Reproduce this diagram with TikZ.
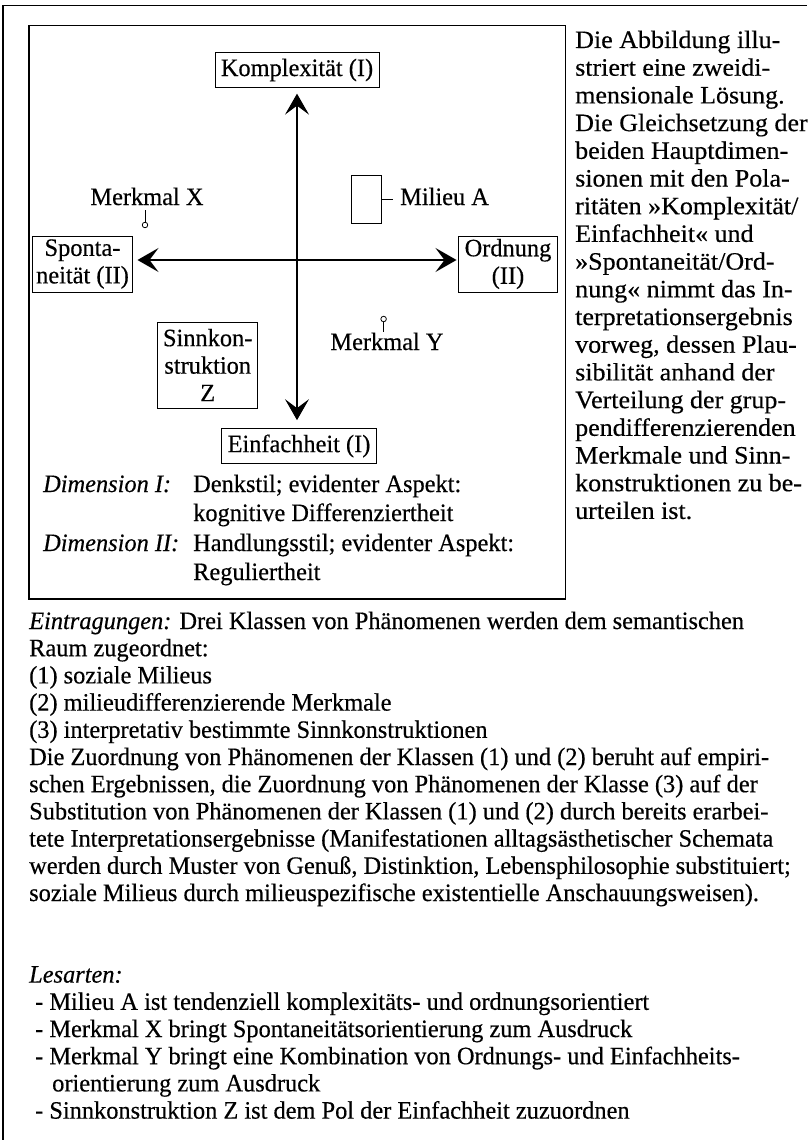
\documentclass[tikz,border=0pt]{standalone}
\usepackage{fontspec}
\setmainfont{Liberation Serif}[FakeStretch=0.975, FakeBold=0.4]
\newfontfamily\colfont{Liberation Serif}[FakeStretch=1.04, FakeBold=0.4]
\usetikzlibrary{arrows.meta}
\begin{document}
\begin{tikzpicture}[x=1pt,y=-1pt,
  txt/.style={inner sep=0pt, anchor=base west, font=\fontsize{25}{27.7}\selectfont},
  coltxt/.style={txt, font=\colfont\fontsize{25}{27.7}\selectfont},
  labelbox/.style={draw, line width=1pt, inner sep=0pt, align=center,
    font=\fontsize{25}{27.5}\selectfont},
  axis/.style={line width=1.1pt,
    {Stealth[length=21pt,width=24pt,inset=9pt]}-{Stealth[length=21pt,width=24pt,inset=9pt]}},
  frame/.style={line width=1.3pt},
  pinline/.style={line width=0.8pt},
  dot/.style={circle, draw, line width=0.8pt, inner sep=0pt, minimum size=5.5pt, fill=white},
]
\useasboundingbox (0,0) rectangle (807,1140);
\fill[white] (0,0) rectangle (807,1140);

% page frame (top and left edges)
\draw[frame] (3,1140) -- (3,5.5) -- (807,5.5);
% frame of the diagram
\draw[frame] (29,25.7) rectangle (565.7,599);

% poles of the two dimensions
\node[labelbox, minimum width=164pt, minimum height=34.3pt] (komp) at (297,70) {Komplexität (I)};
\node[labelbox, minimum width=154.4pt, minimum height=34.7pt] (einf) at (299,446) {Einfachheit (I)};
\node[labelbox, minimum width=100pt, minimum height=56pt] (spont) at (82.5,264) {Sponta-\\neität (II)};
\node[labelbox, minimum width=99pt, minimum height=56pt] (ordn) at (508,264) {Ordnung\\(II)};

% axes
\coordinate (c) at (297,260);
\draw[axis, shorten <=4.5pt, shorten >=1.5pt] (spont.east |- c) -- (ordn.west |- c);
\draw[axis, shorten <=6pt, shorten >=8pt] (komp.south -| c) -- (einf.north -| c);

% entries
\node[labelbox, minimum width=99.5pt, minimum height=86pt] (sinn) at (207.7,365) {Sinnkon-\\struktion\\Z};
\node[draw, line width=1pt, minimum width=30pt, minimum height=48.3pt, inner sep=0pt] (milbox) at (366,199.2) {};
\node[txt] (milA) at (400,205) {Milieu A};
\draw[pinline, shorten >=7pt] (milbox.east) -- (milbox.east -| milA.west);

\node[txt, anchor=base] (mx) at (147,205) {Merkmal X};
\node[dot] (mxdot) at (145,225) {};
\draw[pinline, shorten >=5pt] (mxdot.north) -- (mxdot.north |- mx.south);

\node[txt, anchor=base] (my) at (387,350) {Merkmal Y};
\node[dot] (mydot) at (383.6,319) {};
\draw[pinline] (mydot.south) -- (mydot.south |- my.north);

% legend of the dimensions
\node[txt] (d1) at (43,492) {\textit{Dimension I:}};
\node[txt] (d1a) at (193,492) {Denkstil; evidenter Aspekt:};
\node[txt] (d1b) at (193,521) {kognitive Differenziertheit};
\node[txt] (d2) at (43,551) {\textit{Dimension II:}};
\node[txt] (d2a) at (193,551) {Handlungsstil; evidenter Aspekt:};
\node[txt] (d2b) at (193,580) {Reguliertheit};

% side column
\foreach \t [count=\i] in {Die Abbildung illu-, striert eine zweidi-, mensionale Lösung.,
  Die Gleichsetzung der, beiden Hauptdimen-, sionen mit den Pola-,
  ritäten »Komplexität/, Einfachheit« und, »Spontaneität/Ord-,
  nung« nimmt das In-, terpretationsergebnis, {vorweg, dessen Plau-},
  sibilität anhand der, Verteilung der grup-, pendifferenzierenden,
  Merkmale und Sinn-, konstruktionen zu be-, urteilen ist.}
  \node[coltxt] (r\i) at (575,{48+27.7*(\i-1)}) {\t};

% explanatory text below
\foreach \t [count=\i from 0] in {
  {\textit{Eintragungen:} Drei Klassen von Phänomenen werden dem semantischen},
  {Raum zugeordnet:},
  {(1) soziale Milieus},
  {(2) milieudifferenzierende Merkmale},
  {(3) interpretativ bestimmte Sinnkonstruktionen},
  {Die Zuordnung von Phänomenen der Klassen (1) und (2) beruht auf empiri-},
  {schen Ergebnissen, die Zuordnung von Phänomenen der Klasse (3) auf der},
  {Substitution von Phänomenen der Klassen (1) und (2) durch bereits erarbei-},
  {tete Interpretationsergebnisse (Manifestationen alltagsästhetischer Schemata},
  {werden durch Muster von Genuß, Distinktion, Lebensphilosophie substituiert;},
  {soziale Milieus durch milieuspezifische existentielle Anschauungsweisen).}}
  \node[txt] (e\i) at (29,{629+27.2*\i}) {\t};

\node[txt] (les) at (29,{629+27.2*13}) {\textit{Lesarten:}};
\node[txt] (l1) at (35,{629+27.2*14}) {- Milieu A ist tendenziell komplexitäts- und ordnungsorientiert};
\node[txt] (l2) at (35,{629+27.2*15}) {- Merkmal X bringt Spontaneitätsorientierung zum Ausdruck};
\node[txt] (l3) at (35,{629+27.2*16}) {- Merkmal Y bringt eine Kombination von Ordnungs- und Einfachheits-};
\node[txt] (l3b) at (52,{629+27.2*17}) {orientierung zum Ausdruck};
\node[txt] (l4) at (35,{629+27.2*18}) {- Sinnkonstruktion Z ist dem Pol der Einfachheit zuzuordnen};
\end{tikzpicture}
\end{document}
